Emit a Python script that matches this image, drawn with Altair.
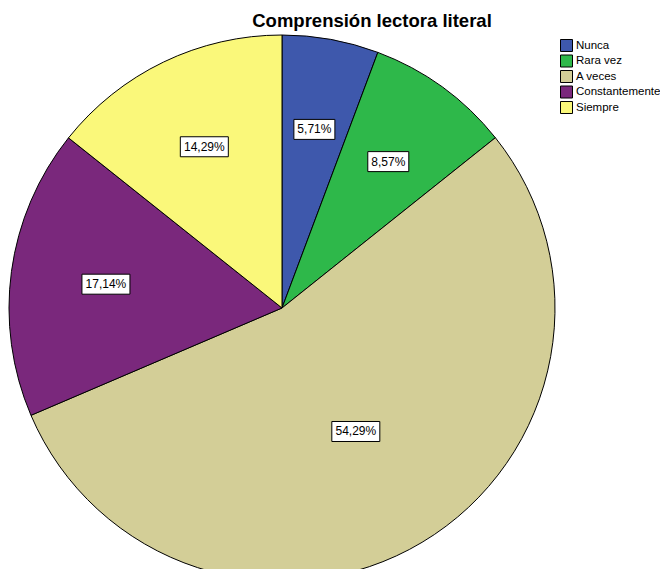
import altair as alt
import pandas as pd

categories = ["Nunca", "Rara vez", "A veces", "Constantemente", "Siempre"]
percents = [5.71, 8.57, 54.29, 17.14, 14.29]
colors = ["#3E58AC", "#2EB84A", "#D3CE97", "#7A287C", "#FAF87A"]
title_text = "Comprensión lectora literal"

df = pd.DataFrame({
    "cat": categories,
    "pct": percents,
    "idx": list(range(len(categories))),
    "label": [f"{v:.2f}".replace(".", ",") + "%" for v in percents],
})

CX, CY, R = 274, 300, 273

base = alt.Chart(df)

pie = base.mark_arc(stroke="black", strokeWidth=1, radius=R).encode(
    theta=alt.Theta("pct:Q", stack=True),
    color=alt.Color(
        "cat:N",
        scale=alt.Scale(domain=categories, range=colors),
        sort=categories,
        legend=alt.Legend(
            title=None, orient="none", legendX=552, legendY=31,
            symbolType="square", symbolSize=144, symbolStrokeColor="black",
            symbolStrokeWidth=1, symbolOpacity=1, labelFontSize=11.5,
            labelFont="Liberation Sans", labelColor="black", rowPadding=-1.5,
            labelOffset=3, padding=0, labelLimit=200,
        ),
    ),
    order=alt.Order("idx:Q"),
    x=alt.value(CX),
    y=alt.value(CY),
)

pos = base.transform_joinaggregate(
    total="sum(pct)"
).transform_window(
    cum="sum(pct)", sort=[alt.SortField("idx")], frame=[None, 0]
).transform_calculate(
    a="(datum.pct/datum.total)*2*PI",
).transform_calculate(
    mid="(datum.cum - datum.pct/2)/datum.total*2*PI",
    rc=f"(2*{R}/3 + 2*{R}*sin(datum.a/2)/(1.5*datum.a))/2",
).transform_calculate(
    lx=f"{CX} + datum.rc*sin(datum.mid)",
    ly=f"{CY} - datum.rc*cos(datum.mid)",
    w="length(datum.label)*7+6",
).transform_calculate(
    x1="datum.lx - datum.w/2",
    x2="datum.lx + datum.w/2",
    y1="datum.ly - 10",
    y2="datum.ly + 10",
)

boxes = pos.mark_rect(fill="white", stroke="black", strokeWidth=1).encode(
    x=alt.X("x1:Q", scale=None),
    x2="x2:Q",
    y=alt.Y("y1:Q", scale=None),
    y2="y2:Q",
)

texts = pos.mark_text(fontSize=12, font="Liberation Sans", color="black",
                      baseline="middle", align="center").encode(
    x=alt.X("lx:Q", scale=None),
    y=alt.Y("ly:Q", scale=None),
    text="label:N",
)

title = alt.Chart(pd.DataFrame({"t": [title_text]})).mark_text(
    fontSize=18.5, fontWeight="bold", font="Liberation Sans", color="black",
    align="center", baseline="middle"
).encode(x=alt.value(364), y=alt.value(13), text="t:N")

chart = alt.layer(pie, boxes, texts, title).properties(
    width=652, height=561, padding=0, autosize=alt.AutoSizeParams(type="none")
).configure_view(stroke=None)

chart.save("out.html", embed_options={"renderer": "svg", "actions": False})
